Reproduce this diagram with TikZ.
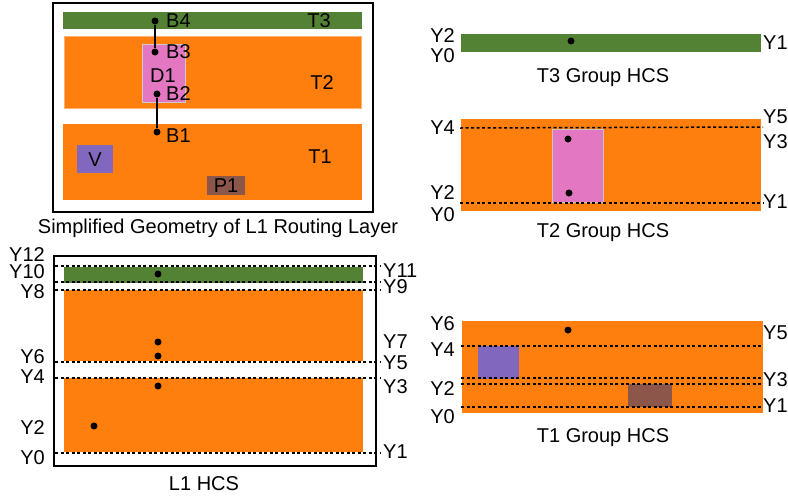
\documentclass[tikz,border=0pt]{standalone}
\usepackage{fontspec}
\setmainfont{Liberation Sans}
\definecolor{trgreen}{HTML}{548235}
\definecolor{trorange}{HTML}{FF7F0E}
\definecolor{trpink}{HTML}{E377C2}
\definecolor{trpurple}{HTML}{8267BE}
\definecolor{trbrown}{HTML}{8C564B}
\tikzset{
  dot/.style={circle, fill=black, inner sep=0pt, minimum size=7pt},
  lbl/.style={inner sep=0pt},
  hcsline/.style={dash pattern=on 3pt off 2.5pt, line width=1.5pt},
  panel/.style={draw=black, line width=1.3pt},
}

\begin{document}
\begin{tikzpicture}[x=1pt, y=-1pt]
  \fontsize{20}{22}\selectfont
  \useasboundingbox (0,0) rectangle (788,496);

  % Simplified geometry of L1
  \draw[panel] (53,3) rectangle (373,212);
  \fill[trgreen] (63,12) rectangle (362,29);
  \filldraw[fill=trorange, draw=trorange!60!white, line width=0.8pt] (64,36) rectangle (361,108);
  \fill[trorange] (63,124) rectangle (362,200);
  \filldraw[fill=trpink, draw=gray!40, line width=0.8pt] (142,44) rectangle (185,102);
  \fill[trpurple] (77,145) rectangle (113,173);
  \fill[trbrown] (207,176) rectangle (245,195);

  \node[dot] (B4) at (155,21) {};
  \node[dot] (B3) at (155,52) {};
  \node[dot] (B2) at (157,94) {};
  \node[dot] (B1) at (157,132) {};
  \draw[line width=2pt] (B4) -- (B3);
  \draw[line width=2pt] (B2) -- (B1);

  \node[lbl, anchor=west] (lB4) at (166,21) {B4};
  \node[lbl, anchor=west] (lB3) at (166,52) {B3};
  \node[lbl, anchor=west] (lB2) at (166,94) {B2};
  \node[lbl, anchor=west] (lB1) at (166,136) {B1};
  \node[lbl] (lD1) at (163,76) {D1};
  \node[lbl] (lT3) at (319,21) {T3};
  \node[lbl] (lT2) at (322,83) {T2};
  \node[lbl] (lT1) at (320,157) {T1};
  \node[lbl] (lV) at (95,160) {V};
  \node[lbl] (lP1) at (226,186) {P1};
  \node[lbl, anchor=base] (capGeo) at (218,233) {Simplified Geometry of L1 Routing Layer};

  % L1 HCS
  \draw[panel] (54,256) rectangle (376,466);
  \fill[trgreen] (64,267) rectangle (363,283);
  \fill[trorange] (64,290) rectangle (363,361);
  \fill[trorange] (64,378) rectangle (363,452);
  \foreach \yy in {266,282,290,362,378,453}
    \draw[hcsline] (55,\yy) -- (381,\yy);
  \node[dot] (h1) at (158,274) {};
  \node[dot] (h2) at (158,342) {};
  \node[dot] (h3) at (158,356) {};
  \node[dot] (h4) at (158,386) {};
  \node[dot] (h5) at (94,426) {};
  \foreach \nm/\yy in {Y12/255,Y10/272,Y8/292,Y6/357,Y4/377,Y2/428,Y0/458}
    \node[lbl, anchor=east] (l1\nm) at (45,\yy) {\nm};
  \foreach \nm/\yy in {Y11/271,Y9/287,Y7/342,Y5/363,Y3/387,Y1/452}
    \node[lbl, anchor=west] (r1\nm) at (383,\yy) {\nm};
  \node[lbl, anchor=base] (capL1) at (204,490) {L1 HCS};

  % T3 group HCS
  \fill[trgreen] (461,34) rectangle (761,52);
  \node[dot] (g3) at (571,41) {};
  \node[lbl, anchor=east] (t3Y2) at (455,36) {Y2};
  \node[lbl, anchor=east] (t3Y0) at (455,56) {Y0};
  \node[lbl, anchor=west] (t3Y1) at (763,43) {Y1};
  \node[lbl, anchor=base] (capT3) at (603,82) {T3 Group HCS};

  % T2 group HCS
  \fill[trorange] (461,119) rectangle (761,211);
  \filldraw[fill=trpink, draw=gray!45, line width=0.8pt] (552,129) rectangle (603,202);
  \draw[hcsline] (460,128) -- (763,127);
  \draw[hcsline] (460,203) -- (763,203);
  \node[dot] (g2a) at (568,139) {};
  \node[dot] (g2b) at (569,193) {};
  \node[lbl, anchor=east] (t2Y4) at (455,128) {Y4};
  \node[lbl, anchor=east] (t2Y2) at (455,193) {Y2};
  \node[lbl, anchor=east] (t2Y0) at (455,215) {Y0};
  \node[lbl, anchor=west] (t2Y5) at (763,117) {Y5};
  \node[lbl, anchor=west] (t2Y3) at (763,142) {Y3};
  \node[lbl, anchor=west] (t2Y1) at (763,202) {Y1};
  \node[lbl, anchor=base] (capT2) at (603,237) {T2 Group HCS};

  % T1 group HCS
  \fill[trorange] (462,321) rectangle (763,413);
  \fill[trpurple] (478,346) rectangle (519,379);
  \fill[trbrown] (628,384) rectangle (672,407);
  \foreach \yy in {346,378,384,407}
    \draw[hcsline] (461,\yy) -- (763,\yy);
  \node[dot] (g1) at (568,330) {};
  \node[lbl, anchor=east] (t1Y6) at (455,324) {Y6};
  \node[lbl, anchor=east] (t1Y4) at (455,350) {Y4};
  \node[lbl, anchor=east] (t1Y2) at (455,389) {Y2};
  \node[lbl, anchor=east] (t1Y0) at (455,417) {Y0};
  \node[lbl, anchor=west] (t1Y5) at (763,333) {Y5};
  \node[lbl, anchor=west] (t1Y3) at (763,380) {Y3};
  \node[lbl, anchor=west] (t1Y1) at (763,406) {Y1};
  \node[lbl, anchor=base] (capT1) at (603,442) {T1 Group HCS};
\end{tikzpicture}
\end{document}
